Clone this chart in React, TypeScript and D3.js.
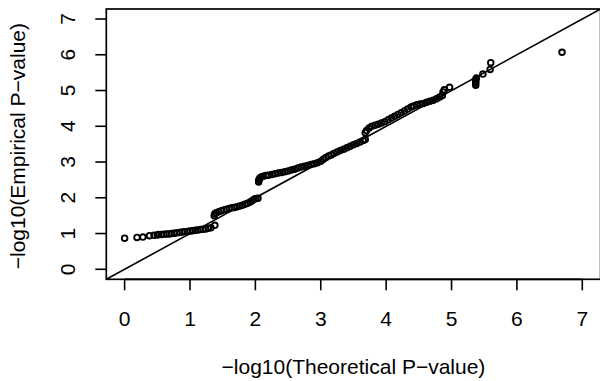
import React from "react";
import * as d3 from "d3";

const theoretical: number[] = [
  0, 0.19, 0.28, 0.38, 0.45, 0.5,
  0.52, 0.56, 0.6, 0.64, 0.68, 0.72, 0.76, 0.8, 0.84, 0.88, 0.92, 0.96, 1.0, 1.04, 1.08, 1.12, 1.16, 1.2, 1.24, 1.28, 1.32,
  1.38,
  1.37, 1.38, 1.4, 1.44, 1.48, 1.52, 1.56, 1.6, 1.64, 1.68, 1.72, 1.76, 1.8, 1.84, 1.88, 1.92, 1.95, 1.98, 2.01, 2.04,
  2.05, 2.05, 2.06, 2.07, 2.09, 2.12, 2.16, 2.2, 2.25, 2.3, 2.35, 2.4, 2.45, 2.5, 2.55, 2.6, 2.65, 2.7, 2.75, 2.8, 2.85, 2.9, 2.95,
  3.0, 3.04, 3.08, 3.12, 3.16, 3.2, 3.25, 3.3, 3.35, 3.4, 3.45, 3.5, 3.55, 3.6, 3.65, 3.68,
  3.68, 3.7, 3.74, 3.78, 3.83, 3.88, 3.93, 3.98, 4.03, 4.08, 4.13, 4.18, 4.23, 4.28, 4.33, 4.38, 4.42, 4.47, 4.52, 4.57, 4.62, 4.67,
  4.72, 4.77, 4.82, 4.86, 4.87, 4.89, 4.97,
  5.37, 5.37, 5.37, 5.37, 5.38, 5.48, 5.59, 5.6, 6.69,
];

const empirical: number[] = [
  0.87, 0.89, 0.9, 0.94, 0.95, 0.96,
  0.97, 0.97, 0.98, 0.99, 0.99, 1.0, 1.01, 1.02, 1.03, 1.04, 1.05, 1.06, 1.07, 1.08, 1.09, 1.1, 1.11, 1.12, 1.13, 1.15, 1.16,
  1.23,
  1.5, 1.55, 1.58, 1.61, 1.64, 1.66, 1.68, 1.7, 1.72, 1.73, 1.75, 1.77, 1.79, 1.82, 1.85, 1.88, 1.92, 1.96, 1.98, 1.99,
  2.44, 2.48, 2.52, 2.55, 2.58, 2.6, 2.62, 2.63, 2.65, 2.67, 2.69, 2.71, 2.73, 2.75, 2.78, 2.8, 2.83, 2.86, 2.88, 2.9, 2.93, 2.95, 2.98,
  3.02, 3.08, 3.13, 3.17, 3.2, 3.24, 3.28, 3.32, 3.36, 3.4, 3.44, 3.48, 3.52, 3.56, 3.6, 3.63,
  3.82, 3.88, 3.95, 4.0, 4.03, 4.06, 4.09, 4.13, 4.18, 4.23, 4.28, 4.33, 4.38, 4.43, 4.48, 4.54, 4.57, 4.6, 4.62, 4.64, 4.67, 4.7,
  4.73, 4.77, 4.82, 4.86, 4.96, 5.02, 5.09,
  5.15, 5.2, 5.25, 5.3, 5.35, 5.46, 5.59, 5.78, 6.07,
];

const xTicks: number[] = [0, 1, 2, 3, 4, 5, 6, 7];
const yTicks: number[] = [0, 1, 2, 3, 4, 5, 6, 7];
const xLabel = "\u2212log10(Theoretical P\u2212value)";
const yLabel = "\u2212log10(Empirical P\u2212value)";

const W = 600;
const H = 381;
const FONT = "'Liberation Sans', Arial, Helvetica, sans-serif";
const FS = 21;

export default function App() {
  const lim: [number, number] = [0, 7];
  const ext = (lim[1] - lim[0]) * 0.04;
  const x = d3.scaleLinear().domain([lim[0] - ext, lim[1] + ext]).range([106.3, 600.6]);
  const y = d3.scaleLinear().domain([lim[0] - ext, lim[1] + ext]).range([279.3, 9]);
  const [x0, x1] = x.range();
  const [y0, y1] = y.range();
  const tick = 11;

  const pts = theoretical.map((t, i) => [t, empirical[i]] as [number, number]);

  return (
    <svg
      width={W}
      height={H}
      style={{ position: "absolute", left: 0, top: 0, background: "#fff" }}
      fontFamily={FONT}
    >
      <rect x={0} y={0} width={W} height={H} fill="#fff" />
      <defs>
        <clipPath id="plotclip">
          <rect x={x0} y={y1} width={x1 - x0} height={y0 - y1} />
        </clipPath>
      </defs>
      <g clipPath="url(#plotclip)">
        {pts.map(([a, b], i) => (
          <circle key={i} cx={x(a)} cy={y(b)} r={2.8} fill="none" stroke="#000" strokeWidth={1.9} />
        ))}
        <line
          x1={x(x.domain()[0])}
          y1={y(x.domain()[0])}
          x2={x(x.domain()[1])}
          y2={y(x.domain()[1])}
          stroke="#000"
          strokeWidth={1.6}
        />
      </g>
      <rect x={x0} y={y1} width={x1 - x0} height={y0 - y1} fill="none" stroke="#000" strokeWidth={1.7} />
      <line x1={x(xTicks[0])} x2={x(xTicks[xTicks.length - 1])} y1={y0} y2={y0} stroke="#000" strokeWidth={1.7} />
      {xTicks.map((t) => (
        <g key={"xt" + t}>
          <line x1={x(t)} x2={x(t)} y1={y0} y2={y0 + tick} stroke="#000" strokeWidth={1.6} />
          <text x={x(t)} y={326} textAnchor="middle" fontSize={FS} fill="#000">
            {t}
          </text>
        </g>
      ))}
      {yTicks.map((t) => (
        <g key={"yt" + t}>
          <line x1={x0 - tick} x2={x0} y1={y(t)} y2={y(t)} stroke="#000" strokeWidth={1.6} />
          <text
            transform={`translate(74.5,${y(t)}) rotate(-90)`}
            textAnchor="middle"
            fontSize={FS}
            fill="#000"
          >
            {t}
          </text>
        </g>
      ))}
      <text x={(x0 + x1) / 2} y={374} textAnchor="middle" fontSize={FS} fill="#000">
        {xLabel}
      </text>
      <text
        transform={`translate(25,${(y0 + y1) / 2 + 2}) rotate(-90)`}
        textAnchor="middle"
        fontSize={FS}
        fill="#000"
      >
        {yLabel}
      </text>
    </svg>
  );
}
